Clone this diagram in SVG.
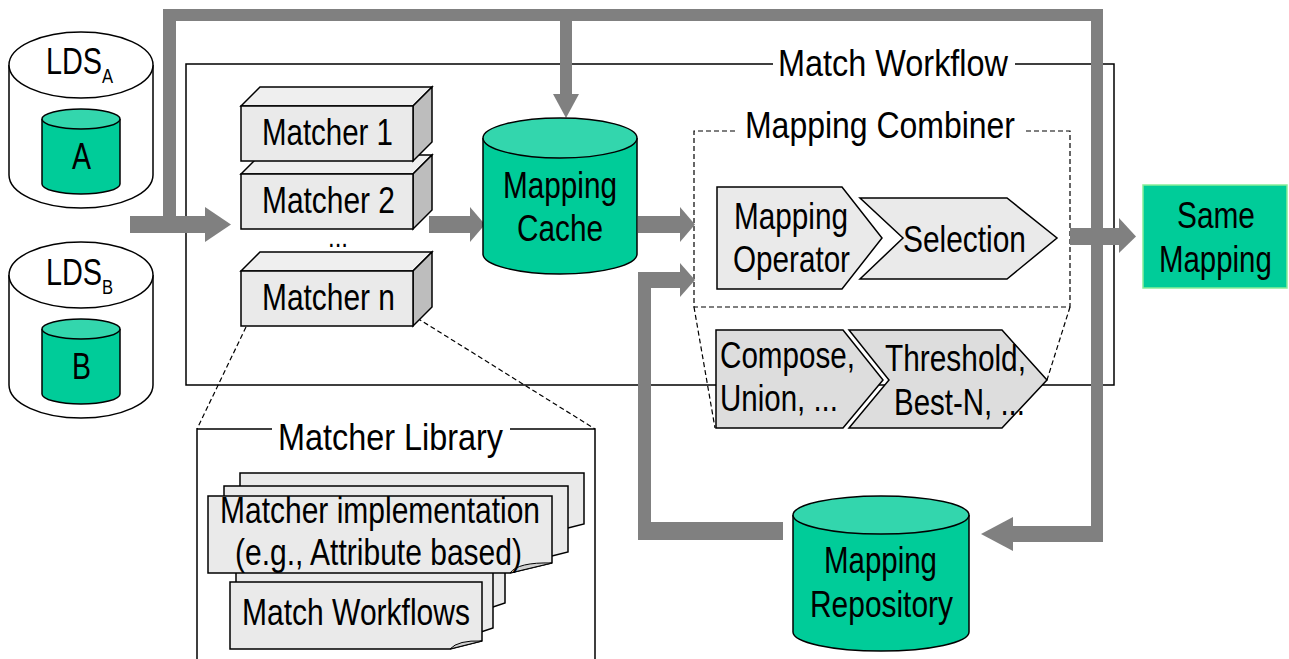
<svg xmlns="http://www.w3.org/2000/svg" width="1289" height="659" viewBox="0 0 1289 659">
<defs>
<style>
text{font-family:"Liberation Sans",Arial,sans-serif;font-size:36.5px;fill:#000}
.sub{font-size:21px}
.dots{font-size:30px}
.ln{fill:none;stroke:#000;stroke-width:1.5}
.dash{fill:none;stroke:#000;stroke-width:1.2;stroke-dasharray:5,3}
.gray{fill:#808080}
.teal{fill:#00CC99;stroke:#000;stroke-width:1.5}
.tealtop{fill:#33D6AD;stroke:#000;stroke-width:1.5}
.white{fill:#fff;stroke:#000;stroke-width:1.5}
.front{fill:#EAEAEA;stroke:#000;stroke-width:1.5}
.topf{fill:#EFEFEF;stroke:#000;stroke-width:1.5}
.side{fill:#BDBDBD;stroke:#000;stroke-width:1.5}
.chev{fill:#EAEAEA;stroke:#000;stroke-width:1.5}
.chev2{fill:#DDDDDD;stroke:#000;stroke-width:1.5}
.doc{fill:#EAEAEA;stroke:#000;stroke-width:1.5}
.fold{fill:#D0D0D0;stroke:#000;stroke-width:1}
</style>
</defs>
<rect width="1289" height="659" fill="#fff"/>

<!-- Match Workflow box -->
<g id="match-workflow">
<path class="ln" d="M773,64 H186 V385 H1114 V64 H1015"/>
<text x="778" y="76" textLength="230" lengthAdjust="spacingAndGlyphs">Match Workflow</text>
</g>

<!-- Mapping Combiner -->
<g id="mapping-combiner">
<path class="dash" d="M735,131 H694 V307 H1070 V131 H1023"/>
<path class="dash" d="M694,307 L715,428 M1070,307 L1047,380"/>
<text x="745" y="138" textLength="270" lengthAdjust="spacingAndGlyphs">Mapping Combiner</text>
</g>

<g id="compose">
<path class="chev2" d="M716,330 H843 L883,380 L843,428 H716 Z"/>
<text x="720" y="368" textLength="135" lengthAdjust="spacingAndGlyphs">Compose,</text>
<text x="720" y="411" textLength="118" lengthAdjust="spacingAndGlyphs">Union, ...</text>
</g>
<g id="threshold">
<path class="chev2" d="M849,330 H1002 L1047,380 L1002,428 H849 L889,380 Z"/>
<text x="885" y="371" textLength="141" lengthAdjust="spacingAndGlyphs">Threshold,</text>
<text x="894" y="415" textLength="131" lengthAdjust="spacingAndGlyphs">Best-N, ...</text>
</g>

<!-- Connectors -->
<g id="connectors">
<rect class="gray" x="130" y="216" width="76" height="17"/>
<polygon class="gray" points="205,207 231,224.5 205,242"/>
<rect class="gray" x="163" y="9" width="940" height="12"/>
<rect class="gray" x="163" y="9" width="13" height="216"/>
<rect class="gray" x="1091" y="9" width="12" height="533"/>
<rect class="gray" x="1012" y="526" width="91" height="16"/>
<polygon class="gray" points="1013,517 981,534 1013,551"/>
<rect class="gray" x="560" y="20" width="12" height="76"/>
<polygon class="gray" points="553,94 579,94 566,118"/>
<rect class="gray" x="429" y="216" width="42" height="17"/>
<polygon class="gray" points="470,207 485,224.5 470,242"/>
<rect class="gray" x="638" y="216" width="43" height="17"/>
<polygon class="gray" points="680,207 695,224.5 680,242"/>
<rect class="gray" x="638" y="522" width="145" height="18"/>
<rect class="gray" x="638" y="272" width="13" height="268"/>
<rect class="gray" x="638" y="272" width="43" height="16"/>
<polygon class="gray" points="680,263 695,280 680,297"/>
<rect class="gray" x="1070" y="228" width="50" height="17"/>
<polygon class="gray" points="1119,218 1136,236.5 1119,253"/>
<path class="dash" d="M246,327 L197,429 M417,318 L595,429"/>
</g>

<!-- LDS A -->
<g id="lds-a">
<path class="white" d="M9,65 V175 A72,33 0 0 0 153,175 V65"/>
<ellipse class="white" cx="81" cy="65" rx="72" ry="33"/>
<text transform="translate(46,74) scale(0.79,1)">LDS<tspan class="sub" dy="9">A</tspan></text>
<path class="teal" d="M42,119 V184 A39,10 0 0 0 120,184 V119"/>
<ellipse class="tealtop" cx="81" cy="119" rx="39" ry="10"/>
<text x="72" y="169" textLength="19" lengthAdjust="spacingAndGlyphs">A</text>
</g>

<!-- LDS B -->
<g id="lds-b">
<path class="white" d="M9,275 V385 A72,33 0 0 0 153,385 V275"/>
<ellipse class="white" cx="81" cy="275" rx="72" ry="33"/>
<text transform="translate(46,285) scale(0.79,1)">LDS<tspan class="sub" dy="9">B</tspan></text>
<path class="teal" d="M42,329 V394 A39,10 0 0 0 120,394 V329"/>
<ellipse class="tealtop" cx="81" cy="329" rx="39" ry="10"/>
<text x="72" y="379" textLength="19" lengthAdjust="spacingAndGlyphs">B</text>
</g>

<!-- Matchers -->
<g id="matcher-n">
<polygon class="topf" points="241,271 260,252 432,252 413,271"/>
<polygon class="side" points="413,271 432,252 432,307 413,326"/>
<rect class="front" x="241" y="271" width="172" height="55"/>
<text x="262" y="310" textLength="133" lengthAdjust="spacingAndGlyphs">Matcher n</text>
</g>
<g id="matcher-2">
<polygon class="topf" points="241,174 260,155 432,155 413,174"/>
<polygon class="side" points="413,174 432,155 432,210 413,229"/>
<rect class="front" x="241" y="174" width="172" height="55"/>
<text x="262" y="213" textLength="133" lengthAdjust="spacingAndGlyphs">Matcher 2</text>
</g>
<g id="matcher-1">
<polygon class="topf" points="241,106 260,87 432,87 413,106"/>
<polygon class="side" points="413,106 432,87 432,142 413,161"/>
<rect class="front" x="241" y="106" width="172" height="55"/>
<text x="262" y="145" textLength="131" lengthAdjust="spacingAndGlyphs">Matcher 1</text>
</g>
<g id="ellipsis">
<text class="dots" x="328" y="247" textLength="20" lengthAdjust="spacingAndGlyphs">...</text>
</g>

<!-- Mapping Cache -->
<g id="mapping-cache">
<path class="teal" d="M483,138 V254 A77,20 0 0 0 637,254 V138"/>
<ellipse class="tealtop" cx="560" cy="138" rx="77" ry="20"/>
<text x="503" y="198" textLength="114" lengthAdjust="spacingAndGlyphs">Mapping</text>
<text x="517" y="241" textLength="86" lengthAdjust="spacingAndGlyphs">Cache</text>
</g>

<!-- Mapping Operator / Selection -->
<g id="mapping-operator">
<path class="chev" d="M717,187 H842 L882,238 L842,289 H717 Z"/>
<text x="734" y="229" textLength="114" lengthAdjust="spacingAndGlyphs">Mapping</text>
<text x="733" y="272" textLength="117" lengthAdjust="spacingAndGlyphs">Operator</text>
</g>
<g id="selection">
<path class="chev" d="M860,198 H1007 L1057,238 L1007,279 H860 L903,238 Z"/>
<text x="903" y="252" textLength="123" lengthAdjust="spacingAndGlyphs">Selection</text>
</g>

<!-- Same Mapping -->
<g id="same-mapping">
<rect x="1143" y="185" width="144" height="103" fill="#00CC99" stroke="#88EE99" stroke-width="1.5"/>
<text transform="translate(1177,228) scale(0.818,1)">Same</text>
<text transform="translate(1159,272) scale(0.806,1)">Mapping</text>
</g>

<!-- Mapping Repository -->
<g id="mapping-repository">
<path class="teal" d="M793,515 V632 A88,19 0 0 0 969,632 V515"/>
<ellipse class="tealtop" cx="881" cy="515" rx="88" ry="19"/>
<text x="824" y="573" textLength="113" lengthAdjust="spacingAndGlyphs">Mapping</text>
<text x="810" y="617" textLength="143" lengthAdjust="spacingAndGlyphs">Repository</text>
</g>

<!-- Matcher Library -->
<g id="matcher-library">
<path class="ln" d="M272,429 H197 V659 M595,659 V429 H510"/>
<text x="278" y="450" textLength="225" lengthAdjust="spacingAndGlyphs">Matcher Library</text>
</g>
<g id="match-workflows-docs">
<path class="doc" d="M242,545 H505 V603 L493,607 H242 Z"/>
<path class="doc" d="M236,560 H493 V628 L478,633 H236 Z"/>
<path class="doc" d="M230,582 H482 V641 L450,649 H230 Z"/>
<path class="fold" d="M450,649 Q458,640 482,641 Z"/>
<text x="242" y="625" textLength="228" lengthAdjust="spacingAndGlyphs">Match Workflows</text>
</g>
<g id="matcher-impl-docs">
<path class="doc" d="M240,473 H584 V524 L568,528 H240 Z"/>
<path class="doc" d="M224,486 H568 V552 L548,557 H224 Z"/>
<path class="doc" d="M208,496 H552 V563 L510,573 H208 Z"/>
<path class="fold" d="M510,573 Q518,562 552,563 Z"/>
<text x="220" y="523" textLength="320" lengthAdjust="spacingAndGlyphs">Matcher implementation</text>
<text x="235" y="565" textLength="287" lengthAdjust="spacingAndGlyphs">(e.g., Attribute based)</text>
</g>
</svg>
